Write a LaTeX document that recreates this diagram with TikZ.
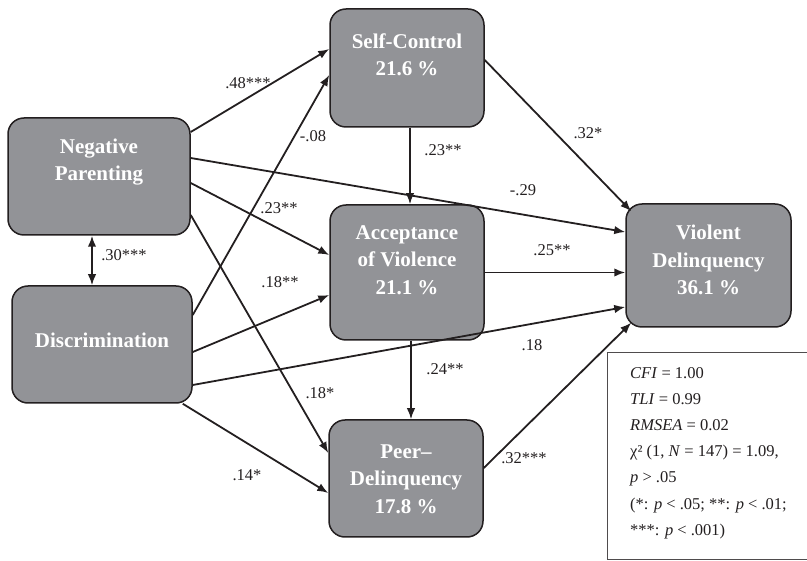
\documentclass[tikz,border=0pt]{standalone}
\usepackage{fontspec}
\setmainfont{Liberation Serif}
\usetikzlibrary{arrows.meta,calc}
\definecolor{boxgray}{RGB}{146,147,151}
\definecolor{edgedark}{RGB}{35,31,32}
\tikzset{
  varbox/.style={draw=edgedark, line width=1.5pt, fill=boxgray, rounded corners=16pt, inner sep=0pt},
  vartext/.style={text=white, font=\fontsize{21}{27.5}\selectfont\bfseries, align=center, inner sep=0pt},
  path/.style={draw=edgedark, line width=1.8pt, -{Latex[length=11pt,width=8.5pt]}},
  coef/.style={font=\fontsize{16.5}{18}\selectfont, text=edgedark, inner sep=0pt},
}
\begin{document}
\begin{tikzpicture}[x=1pt,y=-1pt]
\useasboundingbox (0,0) rectangle (807,561);
% boxes
\node[varbox, minimum width=182pt, minimum height=117pt] (np) at (99,176.5) {};
\node[varbox, minimum width=180pt, minimum height=117pt] (disc) at (102,344.5) {};
\node[varbox, minimum width=154pt, minimum height=118pt] (sc) at (407,68) {};
\node[varbox, minimum width=154pt, minimum height=135pt] (acc) at (407,272.5) {};
\node[varbox, minimum width=154pt, minimum height=117pt] (peer) at (406,478.5) {};
\node[varbox, minimum width=165pt, minimum height=123pt] (viol) at (708.5,265.5) {};
% box texts
\node[vartext] (npt) at (99,162) {Negative\\Parenting};
\node[vartext] (disct) at (102,340) {Discrimination};
\node[vartext] (sct) at (407,55) {Self-Control\\21.6 \%};
\node[vartext] (acct) at (407,260) {Acceptance\\of Violence\\21.1 \%};
\node[vartext] (peert) at (406,479) {Peer–\\Delinquency\\17.8 \%};
\node[vartext] (violt) at (708.5,260) {Violent\\Delinquency\\36.1 \%};
% paths
\draw[path] ([yshift=44.5pt]np.east) -- ([yshift=19pt]sc.west);
\draw[path] ([yshift=29.5pt]disc.east) -- ([yshift=-7pt]sc.west);
\draw[path] ([yshift=-6.5pt]np.east) -- ([yshift=17.5pt]acc.west);
\draw[path] ([yshift=18.5pt]np.east) -- ([yshift=33.5pt]viol.west);
\draw[path] ([yshift=-38.5pt]np.east) -- ([yshift=25.5pt]peer.west);
\draw[path] ([xshift=3pt]sc.south) -- ([xshift=3pt]sc.south |- acc.north);
\draw[path] ([yshift=8pt]sc.east) -- ([xshift=6pt,yshift=-8pt]viol.north west);
\draw[path] (acc.east) -- (acc.east -| viol.west);
\draw[path] ([yshift=-7.5pt]disc.east) -- ([yshift=-22.5pt]acc.west);
\draw[path] ([yshift=-40.5pt]disc.east) -- ([yshift=-41.5pt]viol.west);
\draw[path] ([xshift=-10pt]disc.south east) -- ([yshift=-14.5pt]peer.west);
\draw[path] ([xshift=4pt]acc.south) -- ([xshift=4pt]acc.south |- peer.north);
\draw[path] ([yshift=10.5pt]peer.east) -- ([xshift=6pt,yshift=5pt]viol.south west);
\draw[path, {Latex[length=11pt,width=8.5pt]}-{Latex[length=11pt,width=8.5pt]}] ([xshift=-7pt]np.south) -- ([xshift=-7pt]np.south |- disc.north);
% coefficients
\node[coef] (c1) at (248,83) {.48***};
\node[coef] (c2) at (313,136) {-.08};
\node[coef] (c3) at (443,150) {.23**};
\node[coef] (c4) at (279,208) {.23**};
\node[coef] (c5) at (523,190) {-.29};
\node[coef] (c6) at (588,133) {.32*};
\node[coef] (c7) at (552,250) {.25**};
\node[coef] (c8) at (532,345) {.18};
\node[coef] (c9) at (124,255) {.30***};
\node[coef] (c10) at (280,282) {.18**};
\node[coef] (c11) at (320,393) {.18*};
\node[coef] (c12) at (445,369) {.24**};
\node[coef] (c13) at (247,475) {.14*};
\node[coef] (c14) at (524,458) {.32***};
% fit box
\node[draw=edgedark!80, line width=0.9pt, fill=white, minimum width=205pt, minimum height=207pt, inner sep=0pt, anchor=north west] (fit) at (607,352) {};
\node[anchor=north west, inner sep=0pt, align=left, text=edgedark, font=\fontsize{16.5}{26.2}\selectfont] (fitt) at (630,367)
{\textit{CFI} = 1.00\\
\textit{TLI} = 0.99\\
\textit{RMSEA} = 0.02\\
χ² (1, \textit{N} = 147) = 1.09,\\
\textit{p} > .05\\
(*: \textit{p} < .05; **: \textit{p} < .01;\\
***: \textit{p} < .001)};
\end{tikzpicture}
\end{document}
